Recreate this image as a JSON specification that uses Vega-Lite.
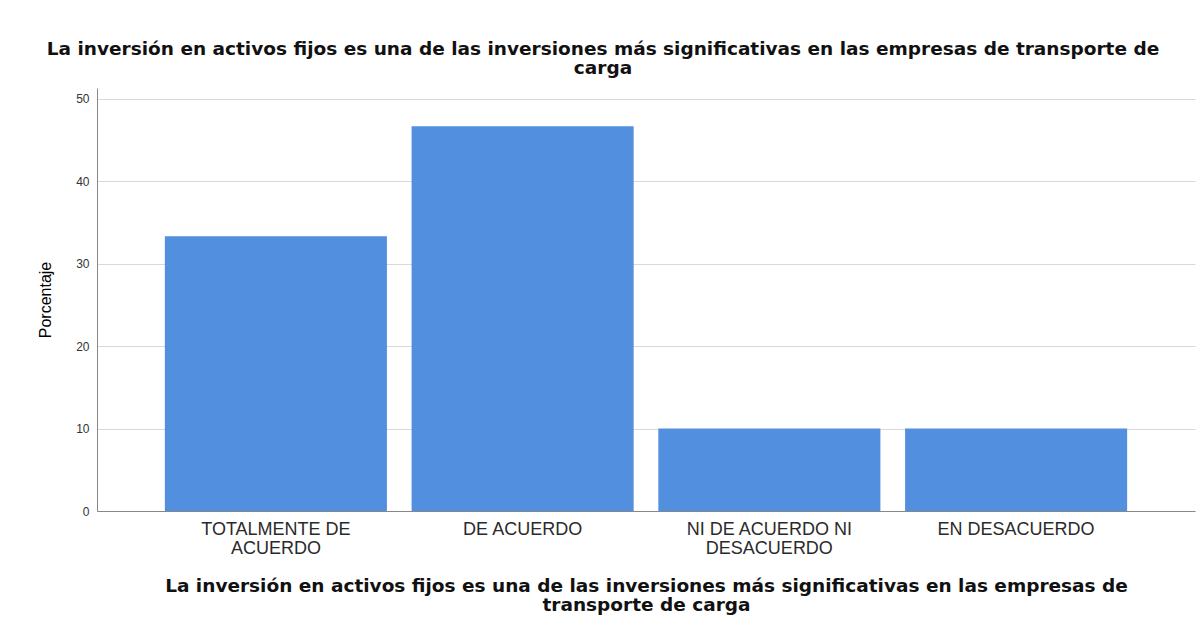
{
  "$schema": "https://vega.github.io/schema/vega-lite/v6.json",
  "width": 1098,
  "height": 423,
  "autosize": {"type": "none"},
  "padding": {"left": 97, "top": 88, "right": 9, "bottom": 124},
  "background": "white",
  "title": {
    "text": ["La inversión en activos fijos es una de las inversiones más significativas en las empresas de transporte de", "carga"],
    "font": "DejaVu Sans",
    "fontSize": 18.5,
    "fontWeight": "bold",
    "color": "#111111",
    "anchor": "middle",
    "dx": -43,
    "offset": 11,
    "lineHeight": 19
  },
  "data": {
    "values": [
      {"respuesta": "TOTALMENTE DE ACUERDO", "porcentaje": 33.33},
      {"respuesta": "DE ACUERDO", "porcentaje": 46.67},
      {"respuesta": "NI DE ACUERDO NI DESACUERDO", "porcentaje": 10.0},
      {"respuesta": "EN DESACUERDO", "porcentaje": 10.0}
    ]
  },
  "mark": {"type": "bar", "color": "#528fde"},
  "encoding": {
    "x": {
      "field": "respuesta",
      "type": "nominal",
      "sort": null,
      "scale": {"paddingInner": 0.1, "paddingOuter": 0.275},
      "axis": {
        "title": ["La inversión en activos fijos es una de las inversiones más significativas en las empresas de", "transporte de carga"],
        "labelAngle": 0,
        "labelExpr": "datum.value == 'TOTALMENTE DE ACUERDO' ? ['TOTALMENTE DE', 'ACUERDO'] : datum.value == 'NI DE ACUERDO NI DESACUERDO' ? ['NI DE ACUERDO NI', 'DESACUERDO'] : datum.value",
        "ticks": false,
        "grid": false,
        "labelPadding": 9,
        "labelFont": "Liberation Sans",
        "labelFontSize": 18,
        "labelColor": "#2a2a2a",
        "labelLineHeight": 19,
        "labelLimit": 300,
        "titleFont": "DejaVu Sans",
        "titleFontSize": 18.5,
        "titleFontWeight": "bold",
        "titleColor": "#111111",
        "titlePadding": 19,
        "titleLineHeight": 19,
        "titleLimit": 1200,
        "domainColor": "#888888"
      }
    },
    "y": {
      "field": "porcentaje",
      "type": "quantitative",
      "scale": {"domain": [0, 51.3], "nice": false},
      "axis": {
        "values": [0, 10, 20, 30, 40, 50],
        "title": "Porcentaje",
        "ticks": false,
        "labelPadding": 8,
        "labelFont": "Liberation Sans",
        "labelFontSize": 12,
        "labelColor": "#333333",
        "titleFont": "Liberation Sans",
        "titleFontSize": 16,
        "titleFontWeight": "normal",
        "titleColor": "#000000",
        "titlePadding": 22,
        "gridColor": "#d9d9d9",
        "domainColor": "#888888"
      }
    }
  },
  "config": {"view": {"stroke": null}}
}
